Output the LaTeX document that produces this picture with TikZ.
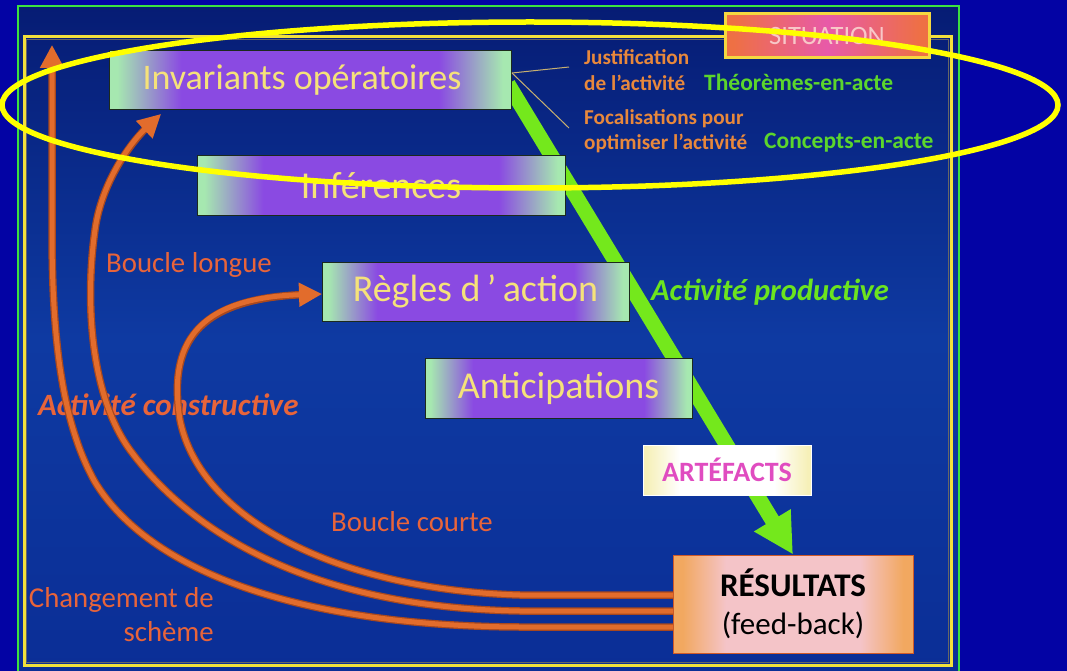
\documentclass[tikz,border=0pt]{standalone}
\usepackage{fontspec}
\setmainfont{Carlito}
\usetikzlibrary{arrows.meta}
\definecolor{outerbg}{HTML}{0303A4}
\definecolor{bgtop}{HTML}{061C74}
\definecolor{bgmid}{HTML}{0E3AA2}
\definecolor{bgbot}{HTML}{0B2E96}
\definecolor{framegreen}{HTML}{3CE040}
\definecolor{frameyellow}{HTML}{F2E03C}
\definecolor{bxg}{HTML}{A6E8B0}
\definecolor{bxp}{HTML}{8A4AE2}
\definecolor{boxedge}{HTML}{1C2A1C}
\definecolor{boxtext}{HTML}{F5E27A}
\definecolor{labelorange}{HTML}{E8643A}
\definecolor{justorange}{HTML}{E8883C}
\definecolor{textgreen}{HTML}{5CD62C}
\definecolor{prodgreen}{HTML}{6CE41E}
\definecolor{arrowgreen}{HTML}{74E81C}
\definecolor{orangearrow}{HTML}{E26C2C}
\definecolor{orangedark}{HTML}{A8481E}
\definecolor{resorange}{HTML}{F2A860}
\definecolor{respink}{HTML}{F4C4C8}
\definecolor{resedge}{HTML}{D05A28}
\definecolor{artwhite}{HTML}{FFFFFF}
\definecolor{artyellow}{HTML}{F6F0B8}
\definecolor{artmagenta}{HTML}{E04CC0}
\definecolor{sitorange}{HTML}{EE7044}
\definecolor{sitpink}{HTML}{E85AA8}
\definecolor{sitedge}{HTML}{F5D840}
\definecolor{sittext}{HTML}{F8C8C8}
\definecolor{thintan}{HTML}{C8B070}
\definecolor{ellyellow}{HTML}{FFFF00}
\pgfdeclarehorizontalshading{boxsh}{100bp}{color(0bp)=(bxg); color(26bp)=(bxg); color(34bp)=(bxp); color(66bp)=(bxp); color(74bp)=(bxg); color(100bp)=(bxg)}
\pgfdeclarehorizontalshading{ressh}{100bp}{color(0bp)=(resorange); color(27bp)=(resorange); color(36bp)=(respink); color(64bp)=(respink); color(73bp)=(resorange); color(100bp)=(resorange)}
\pgfdeclarehorizontalshading{artsh}{100bp}{color(0bp)=(artyellow); color(26bp)=(artyellow); color(36bp)=(artwhite); color(64bp)=(artwhite); color(74bp)=(artyellow); color(100bp)=(artyellow)}
\pgfdeclarehorizontalshading{sitsh}{100bp}{color(0bp)=(sitorange); color(27bp)=(sitorange); color(50bp)=(sitpink); color(73bp)=(sitorange); color(100bp)=(sitorange)}
\tikzset{
  stagebox/.style={draw=boxedge, line width=1pt, shade, shading=boxsh, minimum height=59pt,
    inner sep=0pt, text=boxtext, font=\fontsize{38}{44}\selectfont},
  lbl/.style={inner sep=0pt, anchor=west, text=labelorange, font=\fontsize{28.8}{34}\selectfont},
  justlbl/.style={inner sep=0pt, anchor=west, align=left, text=justorange, font=\bfseries\fontsize{21.2}{25.5}\selectfont},
  greenlbl/.style={inner sep=0pt, anchor=west, text=textgreen, font=\bfseries\fontsize{23.5}{27}\selectfont},
  oarrowbg/.style={draw=orangedark, line width=7.5pt, shorten >=16pt},
  oarrow/.style={draw=orangearrow, line width=5pt, -{Triangle[length=23pt,width=23pt]}},
  garrow/.style={draw=arrowgreen, line width=15pt, -{Triangle[length=40pt,width=40pt]}},
  thinline/.style={draw=thintan, line width=1pt},
}
\begin{document}
\begin{tikzpicture}[x=1pt,y=-1pt]
\useasboundingbox (0,0) rectangle (1067,671);
% background
\fill[outerbg] (0,0) rectangle (1067,671);
\shade[top color=bgtop, bottom color=bgbot, middle color=bgmid] (18,6) rectangle (959,671);
\draw[framegreen, line width=2pt] (18,675) -- (18,6) -- (959,6) -- (959,675);
\draw[frameyellow, line width=3pt] (24,37) rectangle (951,665);
\draw[black!60, line width=0.8pt] (26.5,39.5) rectangle (948.5,662.5);
% situation
\node[draw=sitedge, line width=3pt, shade, shading=sitsh, minimum width=204pt, minimum height=44pt,
  inner sep=0pt, text=sittext, font=\fontsize{26.5}{30}\selectfont] (sit) at (827,36) {SITUATION};
% resultats
\node[draw=resedge, line width=1pt, shade, shading=ressh, minimum width=240pt, minimum height=98pt,
  inner sep=0pt, align=center, text=black, font=\fontsize{31}{38}\selectfont] (res) at (793,604)
  {{\fontsize{33}{38}\selectfont\bfseries RÉSULTATS}\\(feed-back)};
% left labels
\node[lbl] (bl) at (106,265) {Boucle longue};
\node[lbl, font=\bfseries\itshape\fontsize{31}{36}\selectfont] (ac) at (38,405) {Activité constructive};
\node[lbl] (bc) at (331,522) {Boucle courte};
\node[lbl, anchor=east, align=right, font=\fontsize{28.8}{34}\selectfont] (cs) at (214,615) {Changement de\\schème};
% orange arrows
\coordinate (ra) at (673,627);
\coordinate (rb) at (673,611);
\coordinate (rc) at (673,595);
\coordinate (tipA) at (52,45);
\coordinate (tipB) at (161,114);
\coordinate (tipC) at (322,294);
\foreach \s in {oarrowbg,oarrow}{
  \draw[\s] (ra) -- (520,627) .. controls (300,626) and (150,572) .. (95,482)
     .. controls (60,420) and (52,330) .. (52,230) -- (tipA);
  \draw[\s] (rb) -- (520,611) .. controls (330,608) and (200,545) .. (130,450)
     .. controls (90,395) and (85,300) .. (95,230) .. controls (101,185) and (128,145) .. (tipB);
  \draw[\s] (rc) -- (520,595) .. controls (340,590) and (200,520) .. (180,420)
     .. controls (168,345) and (195,298) .. (tipC);
}
% green arrow
\coordinate (gs) at (508,84);
\draw[garrow] (gs) -- (res.north);
% stage boxes
\node[stagebox, minimum width=402pt, font=\fontsize{36}{42}\selectfont] (inv) at (310,80.5) {Invariants opératoires\hspace*{16pt}};
\node[stagebox, minimum width=368pt] (inf) at (381,185.5) {Inférences};
\node[stagebox, minimum width=307pt] (rgl) at (475.5,291.5) {Règles d\,’\,action};
\node[stagebox, minimum width=267pt, minimum height=60pt] (ant) at (558.5,388) {Anticipations};
% artefacts
\node[draw=artwhite, line width=1pt, shade, shading=artsh, minimum width=168pt, minimum height=50pt,
  inner sep=0pt, text=artmagenta, font=\bfseries\fontsize{28}{32}\selectfont] (art) at (727,470) {ARTÉFACTS};
\node[inner sep=0pt, anchor=west, text=prodgreen, font=\bfseries\itshape\fontsize{30.5}{34}\selectfont] (ap) at (651,292) {Activité productive};
% right texts
\node[justlbl] (just) at (584,70) {Justification\\de l’activité};
\node[greenlbl] (thm) at (704,82) {Théorèmes-en-acte};
\node[justlbl] (foc) at (584,131) {Focalisations pour\\optimiser l’activité};
\node[greenlbl] (cpt) at (764,143) {Concepts-en-acte};
\coordinate (js) at (512,73);
\coordinate (je) at (569,67);
\coordinate (fe) at (569,128);
\draw[thinline] (js) -- (je);
\draw[thinline] (js) -- (fe);
% highlight ellipse
\draw[ellyellow, line width=5.5pt] (530,105) ellipse [x radius=528pt, y radius=83pt];
\end{tikzpicture}
\end{document}
